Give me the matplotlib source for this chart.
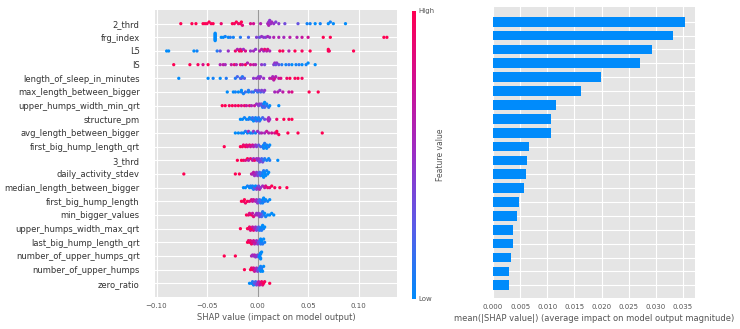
import numpy as np
import matplotlib
matplotlib.use('Agg')
import matplotlib.pyplot as plt
from matplotlib.colors import LinearSegmentedColormap, Normalize
from matplotlib.cm import ScalarMappable

plt.style.use('ggplot')

# features, top to bottom
features = ['2_thrd', 'frg_index', 'L5', 'IS', 'length_of_sleep_in_minutes',
            'max_length_between_bigger', 'upper_humps_width_min_qrt', 'structure_pm',
            'avg_length_between_bigger', 'first_big_hump_length_qrt', '3_thrd',
            'daily_activity_stdev', 'median_length_between_bigger', 'first_big_hump_length',
            'min_bigger_values', 'upper_humps_width_max_qrt', 'last_big_hump_length_qrt',
            'number_of_upper_humps_qrt', 'number_of_upper_humps', 'zero_ratio']

mean_abs_shap = [0.0354, 0.0332, 0.0292, 0.0271, 0.0199, 0.0162, 0.0116, 0.0107, 0.0106, 0.0066,
                 0.0063, 0.0060, 0.0057, 0.0048, 0.0044, 0.0037, 0.0036, 0.0033, 0.0030, 0.0029]

# shap value / normalised feature value (0 = low, 1 = high) per feature
thrd2_shap = [-0.076, -0.065, -0.061, -0.054, -0.052, -0.050, -0.048, -0.046, -0.044, -0.036,
              -0.025, -0.023, -0.021, -0.019, -0.017, -0.016, -0.015, -0.007, -0.004, 0.003,
              0.010, 0.011, 0.011, 0.012, 0.013, 0.014, 0.016, 0.018, 0.021, 0.027,
              0.040, 0.049, 0.052, 0.057, 0.062, 0.070, 0.072, 0.075, 0.087]
thrd2_val = [1, 1, 1, 1, 1, .95, 1, .95, 1, .9, 1, .95, 1, .9, .95, 1, .85, .8, .75, .6,
             .55, .5, .6, .45, .5, .55, .5, .4, .45, .35, .3, .05, .05, 0, .05, 0, .05, 0, 0]

frg_shap = [-0.042] * 10 + [-0.036, -0.034, -0.032, -0.029, -0.027, -0.024, -0.017, -0.009,
            -0.001, 0.002, 0.004, 0.006, 0.008, 0.010, 0.012, 0.016,
            0.021, 0.026, 0.032, 0.039, 0.044, 0.050, 0.065, 0.072, 0.125, 0.128]
frg_val = [0] * 10 + [0, 0, .05, 0, .1, .05, .1, .2, .4, .3, .5, .45, .4, .55, .5, .6,
                      .6, .55, .65, .6, .7, .75, 1, 1, 1, 1]

l5_shap = [-0.090, -0.088, -0.063, -0.060, -0.040, -0.037, -0.029, -0.022, -0.020, -0.018,
           -0.017, -0.016, -0.014, -0.012, -0.007, -0.004, -0.002, 0.002, 0.004, 0.006,
           0.007, 0.009, 0.010, 0.012, 0.022, 0.025, 0.031, 0.037, 0.044, 0.052,
           0.070, 0.070, 0.071, 0.095]
l5_val = [0, 0, 0, .05, .1, .3, .5, .9, .6, 1, .7, .95, .5, .8, .5, .55, .45,
          .6, .7, .55, .9, .65, .8, .6, 1, .95, .6, 1, .95, 1, 1, 1, .95, 1]

is_shap = [-0.083, -0.067, -0.059, -0.054, -0.049, -0.037, -0.034, -0.032, -0.026, -0.023,
           -0.021, -0.017, -0.015, -0.012, -0.010, -0.007, -0.004, -0.002, 0.004, 0.007,
           0.016, 0.017, 0.018, 0.019, 0.021, 0.024, 0.028, 0.031, 0.034, 0.038,
           0.041, 0.044, 0.048, 0.050, 0.057]
is_val = [1, 1, .95, .8, 1, .6, .65, .55, .7, .9, .6, .85, .7, .95, .6, .75, .7, .6, .45, .35,
          .4, .5, .3, .45, .35, .1, .05, .15, 0, .05, .1, 0, .05, 0, 0]

sleep_shap = [-0.078, -0.049, -0.044, -0.037, -0.031, -0.022, -0.020, -0.017, -0.016, -0.015,
              -0.013, -0.004, -0.001, 0.001, 0.002, 0.003, 0.006, 0.012, 0.014, 0.015,
              0.016, 0.017, 0.018, 0.021, 0.023, 0.029, 0.032, 0.037, 0.040, 0.044]
sleep_val = [0, 0, .05, 0, .1, .1, .2, .15, .3, .1, .25, .45, .5, .4, .55, .45, .5,
             .6, .7, .55, .65, .75, .6, .7, .8, .9, 1, .95, 1, .95]

maxlen_shap = [-0.030, -0.024, -0.022, -0.019, -0.016, -0.016, -0.014, -0.012, -0.009, -0.009,
               -0.006, -0.004, -0.002, 0.000, 0.001, 0.003, 0.004, 0.006, 0.007, 0.017,
               0.020, 0.022, 0.025, 0.031, 0.034, 0.051, 0.060]
maxlen_val = [0, 0, .05, 0, .1, 0, .05, .15, 0, .1, .2, .1, .3, .15, .35, .2, .4, .3, .45,
              .55, .6, .5, .65, .7, .8, 1, 1]

uhmin_shap = [-0.035, -0.032, -0.028, -0.025, -0.022, -0.019, -0.016, -0.013, -0.011, -0.008,
              -0.006, -0.003, -0.001, 0.001, 0.002, 0.004, 0.004, 0.005, 0.006, 0.006,
              0.007, 0.007, 0.009, 0.009, 0.011, 0.012, 0.021]
uhmin_val = [1, 1, .95, 1, .9, 1, .8, .9, .7, .85, .6, .7, .5, .4, .45, .2, .3, .1, .35, .05,
             .2, 0, .15, .05, .1, 0, 0]

struct_shap = [-0.017, -0.015, -0.013, -0.011, -0.009, -0.008, -0.006, -0.005, -0.004, -0.003,
               -0.002, -0.001, 0.000, 0.001, 0.002, 0.003, 0.005, 0.007, 0.010, 0.011,
               0.011, 0.012, 0.019, 0.026, 0.031, 0.034]
struct_val = [0, 0, .05, 0, .1, 0, .05, .15, 0, .1, .05, .2, 0, .1, .15, .05, .2, .3,
              .5, .55, .6, .5, .9, 1, .95, 1]

avglen_shap = [-0.022, -0.019, -0.016, -0.014, -0.012, -0.010, -0.009, -0.007, -0.005, -0.004,
               -0.002, 0.000, 0.002, 0.004, 0.007, 0.009, 0.011, 0.014, 0.017, 0.019,
               0.019, 0.021, 0.030, 0.040, 0.064]
avglen_val = [0, 0, .05, 0, .1, .05, .5, 0, .1, .45, .05, .5, .4, .6, .55, .7, .65, .75, .8,
              .9, 1, .95, 1, 1, 1]

fbhq_shap = [-0.033, -0.017, -0.015, -0.014, -0.012, -0.011, -0.010, -0.008, -0.007, -0.005,
             -0.004, -0.002, -0.001, 0.001, 0.003, 0.005, 0.006, 0.006, 0.007, 0.008,
             0.009, 0.009, 0.011, 0.012]
fbhq_val = [1, 1, .95, .9, 1, .85, .8, .9, .7, .75, .6, .5, .4, .3, .2, .1, 0, .05, .1, 0,
            .05, 0, .1, 0]

thrd3_shap = [-0.020, -0.016, -0.014, -0.012, -0.010, -0.009, -0.007, -0.005, -0.004, -0.003,
              -0.001, 0.000, 0.001, 0.002, 0.003, 0.004, 0.005, 0.006, 0.007, 0.009,
              0.011, 0.012, 0.020]
thrd3_val = [1, 1, .95, .8, 1, .6, .85, .7, .5, .9, .55, .45, .5, .3, .4, .2, .35, .15, .1, .05,
             0, .1, 0]

stdev_shap = [-0.073, -0.022, -0.018, -0.006, -0.005, -0.004, -0.003, -0.002, -0.001, 0.000,
              0.001, 0.002, 0.003, 0.004, 0.005, 0.005, 0.006, 0.006, 0.007, 0.007,
              0.008, 0.009, 0.010, 0.011]
stdev_val = [1, 1, 1, .7, .6, .65, .5, .55, .45, .4, .3, .2, .1, .15, .05, 0, .1, 0, .05, 0,
             0, .05, 0, 0]

medlen_shap = [-0.014, -0.012, -0.010, -0.008, -0.007, -0.006, -0.005, -0.004, -0.003, -0.002,
               -0.001, 0.000, 0.001, 0.002, 0.003, 0.005, 0.007, 0.008, 0.010, 0.012,
               0.014, 0.017, 0.022, 0.029]
medlen_val = [0, 0, .05, 0, .1, 0, .05, .1, .3, 0, .4, .5, .35, .6, .45, .55, .7,
              .8, .9, .85, 1, .95, 1, 1]

fbh_shap = [-0.016, -0.014, -0.013, -0.012, -0.010, -0.008, -0.006, -0.005, -0.004, -0.002,
            -0.001, 0.000, 0.001, 0.002, 0.003, 0.004, 0.005, 0.005, 0.006, 0.007,
            0.008, 0.010, 0.012]
fbh_val = [1, .95, 1, .9, 1, .85, .8, .7, .75, .55, .5, .45, .3, .2, .1, .15, 0, .05, 0, .1,
           0, .05, 0]

minbig_shap = [-0.011, -0.009, -0.008, -0.006, -0.005, -0.004, -0.002, -0.001, 0.000, 0.001,
               0.002, 0.003, 0.004, 0.004, 0.005, 0.006, 0.007, 0.008, 0.010, 0.012,
               0.014, 0.016]
minbig_val = [1, .9, .8, .95, .7, .85, .6, .5, .55, .45, .4, .5, .3, .2, .1, .15, 0, .05, 0, 0,
              0, 0]

uhmax_shap = [-0.017, -0.010, -0.009, -0.008, -0.007, -0.006, -0.005, -0.004, -0.003, -0.002,
              -0.001, 0.000, 0.001, 0.002, 0.003, 0.004, 0.004, 0.005, 0.006, 0.007]
uhmax_val = [1, 1, .95, .9, .8, 1, .7, .85, .6, .5, .4, .3, .2, .1, .05, 0, .1, 0, .05, 0]

lbhq_shap = [-0.010, -0.009, -0.008, -0.007, -0.006, -0.005, -0.004, -0.003, -0.002, -0.001,
             0.000, 0.001, 0.002, 0.003, 0.003, 0.004, 0.004, 0.005, 0.006, 0.007]
lbhq_val = [1, .9, 1, .85, .95, .8, .75, .6, .7, .5, .45, .3, .2, .1, 0, .05, 0, .1, 0, .05]

nuhq_shap = [-0.033, -0.022, -0.006, -0.005, -0.004, -0.003, -0.002, -0.001, 0.000, 0.001,
             0.002, 0.002, 0.002, 0.003, 0.003, 0.003, 0.003, 0.004]
nuhq_val = [1, 1, .6, .55, .5, .6, .45, .5, .4, .2, 0, .05, 0, 0, .05, 0, 0, 0]

nuh_shap = [-0.013, -0.007, -0.006, -0.005, -0.004, -0.003, -0.002, -0.001, 0.000, 0.001,
            0.002, 0.003, 0.003, 0.004, 0.004, 0.005, 0.006]
nuh_val = [1, 1, .9, .95, .8, .7, .6, .5, .4, .2, .1, 0, .05, 0, .1, 0, 0]

zero_shap = [-0.008, -0.006, -0.005, -0.004, -0.003, -0.002, -0.001, 0.000, 0.001, 0.002,
             0.003, 0.004, 0.005, 0.006, 0.007, 0.012]
zero_val = [0, 0, .1, .05, .3, .2, .4, .5, .6, .7, .8, .9, .85, 1, .95, 1]

shap_rows = [thrd2_shap, frg_shap, l5_shap, is_shap, sleep_shap, maxlen_shap, uhmin_shap,
             struct_shap, avglen_shap, fbhq_shap, thrd3_shap, stdev_shap, medlen_shap,
             fbh_shap, minbig_shap, uhmax_shap, lbhq_shap, nuhq_shap, nuh_shap, zero_shap]
val_rows = [thrd2_val, frg_val, l5_val, is_val, sleep_val, maxlen_val, uhmin_val,
            struct_val, avglen_val, fbhq_val, thrd3_val, stdev_val, medlen_val,
            fbh_val, minbig_val, uhmax_val, lbhq_val, nuhq_val, nuh_val, zero_val]

red_blue = LinearSegmentedColormap.from_list(
    'red_blue', ['#008bfb', '#5a5ce8', '#9a2ec6', '#cf0f93', '#ff0052'])


def swarm(shaps, bin_width=0.003, row_height=0.4):
    # shap-style stacking, but with a fixed bin width so sparse rows still pile up
    shaps = np.asarray(shaps)
    quant = np.round((shaps - shaps.min()) / bin_width)
    inds = np.argsort(quant, kind='stable')
    layer = 0
    last_bin = -1
    ys = np.zeros(len(shaps))
    for ind in inds:
        if quant[ind] != last_bin:
            layer = 0
        ys[ind] = np.ceil(layer / 2) * ((layer % 2) * 2 - 1)
        layer += 1
        last_bin = quant[ind]
    ys *= 0.9 * (row_height / max(np.max(ys + 1), 3))
    return ys


fig = plt.figure(figsize=(7.4, 3.29), dpi=100)
ax = fig.add_axes([0.2095, 0.0973, 0.327, 0.8723])
cax = fig.add_axes([0.5574, 0.0912, 0.0042, 0.8754])
ax2 = fig.add_axes([0.6662, 0.0942, 0.273, 0.8845])

n = len(features)
ax.axvline(0, color='#999999', lw=0.8, zorder=1)
for i in range(n):
    pos = n - 1 - i
    sv = np.array(shap_rows[i])
    fv = np.array(val_rows[i])
    ax.scatter(sv, pos + swarm(sv), c=fv, cmap=red_blue, vmin=0, vmax=1,
               s=5.5, linewidth=0, zorder=3)

ax.set_yticks(range(n))
ax.set_yticklabels(features[::-1], fontsize=6, color='#333333')
ax.set_ylim(-1, n)
ax.set_xlim(-0.1015, 0.138)
ax.set_xticks([-0.10, -0.05, 0.00, 0.05, 0.10])
ax.tick_params(axis='y', length=0, pad=11)
ax.tick_params(axis='x', length=0, pad=4, labelsize=5, labelcolor='#555555')
ax.set_xlabel('SHAP value (impact on model output)', fontsize=6, color='#555555', labelpad=3)
ax.grid(True, color='white', lw=0.8)
for s in ax.spines.values():
    s.set_visible(False)

sm = ScalarMappable(norm=Normalize(0, 1), cmap=red_blue)
cb = fig.colorbar(sm, cax=cax, ticks=[0, 1])
cb.set_ticklabels(['Low', 'High'])
cb.ax.tick_params(labelsize=5, length=0, pad=2, labelcolor='#555555')
cb.set_label('Feature value', fontsize=5.5, color='#555555', labelpad=1)
cb.outline.set_visible(False)
cax.grid(False)

ax2.barh(range(n), mean_abs_shap[::-1], height=0.7, color='#008bfb', zorder=3)
ax2.set_yticks(range(n))
ax2.set_yticklabels([])
ax2.set_ylim(-0.92, 20.06)
ax2.set_xlim(0, 0.0372)
ax2.set_xticks(np.arange(0, 0.0351, 0.005))
ax2.set_xticklabels(['%.3f' % t for t in np.arange(0, 0.0351, 0.005)])
ax2.tick_params(axis='y', length=0)
ax2.tick_params(axis='x', length=0, pad=4, labelsize=5, labelcolor='#555555')
ax2.set_xlabel('mean(|SHAP value|) (average impact on model output magnitude)',
               fontsize=6, color='#555555', labelpad=3)
ax2.grid(True, color='white', lw=0.8)
for s in ax2.spines.values():
    s.set_visible(False)

fig.savefig('out.png', dpi=100)
